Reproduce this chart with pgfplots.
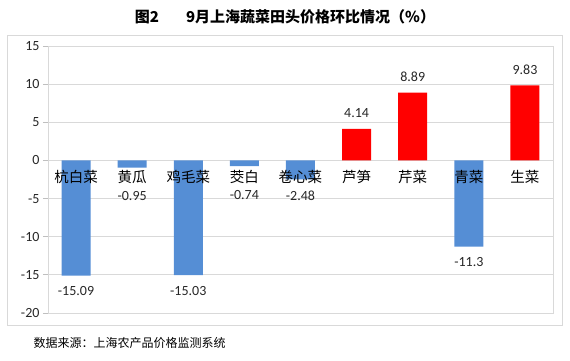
\documentclass[border=0pt]{standalone}
\usepackage{pgfplots}
\pgfplotsset{compat=1.18}
\usepackage{pgfplotstable}
\usepackage{fontspec}
\setmainfont{Carlito}
\newfontfamily\cjk{Noto Sans CJK SC}
\definecolor{barblue}{HTML}{558ED5}
\definecolor{barred}{HTML}{FF0000}
\definecolor{gridgray}{HTML}{D9D9D9}
\definecolor{axgray}{HTML}{BFBFBF}
\definecolor{txt}{HTML}{262626}

\pgfplotstableread{
x y
0 -15.09
2 -15.03
4 -2.48
7 -11.3
}\negdata
\pgfplotstableread{
x y
1 -0.95
3 -0.74
}\negshift
\pgfplotstableread{
x y
5 4.14
6 8.89
8 9.83
}\posdata

\begin{document}
\begin{tikzpicture}
\path[use as bounding box] (0,0) rectangle (570pt,360pt);
\draw[gridgray, line width=0.8pt] (7pt,35pt) rectangle (562pt,325pt);
\node[font=\cjk\bfseries\fontsize{15}{17}\selectfont, text=black] at (285pt,343pt) {图2\hspace{1.8em}9月上海蔬菜田头价格环比情况（\%）};
\node[anchor=west, font=\cjk\fontsize{12}{14}\selectfont, text=black] at (30pt,17pt) {数据来源：上海农产品价格监测系统};
\begin{axis}[
  at={(48pt,47pt)}, anchor=south west,
  width=505pt, height=267pt, scale only axis,
  xmin=-0.5, xmax=8.5, ymin=-20, ymax=15,
  ytick={-20,-15,...,15},
  xtick=\empty,
  ytick pos=left,
  tick align=outside,
  major tick length=5pt,
  y tick style={axgray, line width=0.8pt},
  yticklabel style={font=\fontsize{14}{16}\selectfont, text=txt},
  /pgf/number format/assume math mode=true,
  ymajorgrids,
  major grid style={gridgray, line width=0.8pt},
  axis line style={gridgray, line width=0.8pt},
  ybar, bar width=29pt, bar shift=0pt,
  nodes near coords,
  every node near coord/.append style={font=\fontsize{14}{16}\selectfont, text=txt, inner ysep=11pt, inner xsep=1pt},
  clip=false,
]
\addplot[fill=barblue, draw=none] table[x=x, y=y] {\negdata};
\addplot[fill=barblue, draw=none,
  every node near coord/.append style={yshift=-13pt}] table[x=x, y=y] {\negshift};
\addplot[fill=barred, draw=none] table[x=x, y=y] {\posdata};
\foreach \i/\name in {0/杭白菜,1/黄瓜,2/鸡毛菜,3/茭白,4/卷心菜,5/芦笋,6/芹菜,7/青菜,8/生菜}{
  \edef\tmp{\noexpand\node[font=\noexpand\cjk\noexpand\fontsize{14.5}{16}\noexpand\selectfont, text=black, yshift=-17pt] at (axis cs:\i,0) {\name};}
  \tmp
}
\end{axis}
\end{tikzpicture}
\end{document}
